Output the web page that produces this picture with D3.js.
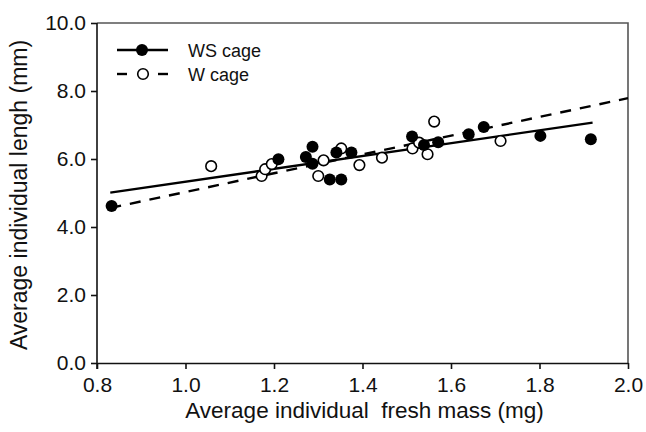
<!DOCTYPE html>
<html>
<head>
<meta charset="utf-8">
<script src="https://cdn.jsdelivr.net/npm/d3@7"></script>
<style>
  body { margin: 0; background: #fff; }
  svg text { font-family: "Liberation Sans", Arial, sans-serif; fill: #111; }
</style>
</head>
<body>
<div id="chart"></div>
<script>
// WS cage (filled) - fresh mass (mg) / length (mm)
var wsMass = [0.833, 1.210, 1.272, 1.287, 1.287, 1.326, 1.352, 1.341, 1.375, 1.512, 1.539, 1.571, 1.640, 1.674, 1.802, 1.916]
var wsLen  = [4.62, 5.99, 6.06, 6.36, 5.86, 5.40, 5.40, 6.19, 6.19, 6.66, 6.41, 6.49, 6.73, 6.94, 6.68, 6.58]
// W cage (open)
var wMass = [1.058, 1.172, 1.180, 1.195, 1.300, 1.312, 1.352, 1.393, 1.444, 1.513, 1.528, 1.547, 1.562, 1.712]
var wLen  = [5.79, 5.50, 5.70, 5.85, 5.50, 5.96, 6.31, 5.82, 6.04, 6.31, 6.48, 6.14, 7.10, 6.53]
// regression lines: [x0, y0, x1, y1]
var wsFit = [0.83, 5.01, 1.92, 7.07]
var wFit  = [0.83, 4.56, 2.00, 7.79]

var xTicks = [0.8, 1.0, 1.2, 1.4, 1.6, 1.8, 2.0]
var yTicks = [0, 2, 4, 6, 8, 10]

var width = 646, height = 432,
    margin = {top: 23, right: 18, bottom: 69, left: 97}

var svg = d3.select('#chart').append('svg').attr('width', width).attr('height', height)

var x = d3.scaleLinear().domain([0.8, 2.0]).range([margin.left, width - margin.right])
var y = d3.scaleLinear().domain([0, 10]).range([height - margin.bottom, margin.top])

// frame (top + right)
svg.append('path')
  .attr('d', 'M' + x(0.8) + ',' + y(10) + 'H' + x(2.0) + 'V' + y(0))
  .attr('fill', 'none').attr('stroke', '#555').attr('stroke-width', 1.6)

var xAxis = d3.axisBottom(x).tickValues(xTicks).tickFormat(d3.format('.1f')).tickSize(6).tickPadding(8).tickSizeOuter(0)
var yAxis = d3.axisLeft(y).tickValues(yTicks).tickFormat(d3.format('.1f')).tickSize(6).tickPadding(5).tickSizeOuter(0)

var gx = svg.append('g').attr('transform', 'translate(0,' + y(0) + ')').call(xAxis)
var gy = svg.append('g').attr('transform', 'translate(' + x(0.8) + ',0)').call(yAxis)
;[gx, gy].forEach(g => {
  g.attr('font-size', 21).attr('font-family', '"Liberation Sans", Arial, sans-serif')
  g.selectAll('path, line').attr('stroke', '#111').attr('stroke-width', 1.6)
  g.selectAll('text').style('font-size', '21px').attr('fill', '#111')
})
gy.select('.domain').attr('d', 'M0,' + (y(0) + 6) + 'V' + y(10))

// axis titles
svg.append('text')
  .attr('x', (x(0.8) + x(2.0)) / 2 + 2).attr('y', 418)
  .attr('text-anchor', 'middle').attr('font-size', 22.5)
  .attr('xml:space', 'preserve')
  .text('Average individual  fresh mass (mg)')
svg.append('text')
  .attr('transform', 'translate(27,' + (y(5) + 2) + ') rotate(-90)')
  .attr('text-anchor', 'middle').attr('font-size', 23)
  .text('Average individual lengh (mm)')

// fitted lines
svg.append('line')
  .attr('x1', x(wsFit[0])).attr('y1', y(wsFit[1])).attr('x2', x(wsFit[2])).attr('y2', y(wsFit[3]))
  .attr('stroke', '#000').attr('stroke-width', 2.4)
svg.append('line')
  .attr('x1', x(wFit[0])).attr('y1', y(wFit[1])).attr('x2', x(wFit[2])).attr('y2', y(wFit[3]))
  .attr('stroke', '#000').attr('stroke-width', 2.4).attr('stroke-dasharray', '11,9')

// points
var wsData = wsMass.map((m, i) => ({m: m, l: wsLen[i]}))
var wData = wMass.map((m, i) => ({m: m, l: wLen[i]}))

svg.append('g').selectAll('circle').data(wData).enter().append('circle')
  .attr('cx', d => x(d.m)).attr('cy', d => y(d.l)).attr('r', 5.3)
  .attr('fill', '#fff').attr('stroke', '#000').attr('stroke-width', 1.6)
svg.append('g').selectAll('circle').data(wsData).enter().append('circle')
  .attr('cx', d => x(d.m)).attr('cy', d => y(d.l)).attr('r', 6)
  .attr('fill', '#000')

// legend
var lg = svg.append('g')
lg.append('line').attr('x1', 117).attr('x2', 168).attr('y1', 50).attr('y2', 50).attr('stroke', '#000').attr('stroke-width', 2.4)
lg.append('circle').attr('cx', 142).attr('cy', 50).attr('r', 6).attr('fill', '#000')
lg.append('text').attr('x', 188).attr('y', 56.5).attr('font-size', 18).text('WS cage')
lg.append('line').attr('x1', 117).attr('x2', 127).attr('y1', 74).attr('y2', 74).attr('stroke', '#000').attr('stroke-width', 2.4)
lg.append('line').attr('x1', 158).attr('x2', 168).attr('y1', 74).attr('y2', 74).attr('stroke', '#000').attr('stroke-width', 2.4)
lg.append('circle').attr('cx', 143).attr('cy', 74).attr('r', 5.3).attr('fill', '#fff').attr('stroke', '#000').attr('stroke-width', 1.6)
lg.append('text').attr('x', 188).attr('y', 80.5).attr('font-size', 18).text('W cage')
</script>
</body>
</html>
